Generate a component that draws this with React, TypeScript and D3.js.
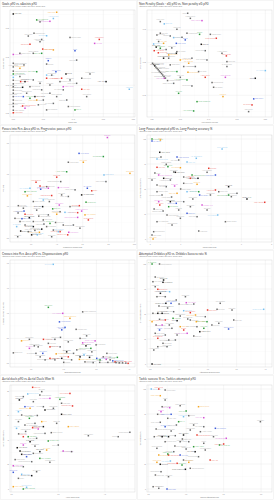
import React from "react";
import * as d3 from "d3";

// team colour codes used in the point tables below
const TEAM: Record<string, string> = {
  k: "#1b1b1b",
  r: "#e8382f",
  g: "#2e9b3c",
  b: "#3a5ad9",
  l: "#78c0f0",
  o: "#f5a524",
  m: "#d650d6",
  x: "#6e6e6e",
};

const SUBTITLE = "Attackers & mids, Premier League, Dec 2019, Source: fbref";

const PLAYERS = [
  "Jamie Vardy", "Sadio Mané", "Mohamed Salah", "Raheem Sterling", "Kevin De Bruyne",
  "Riyad Mahrez", "Sergio Agüero", "Gabriel Jesus", "Bernardo Silva", "David Silva",
  "Tammy Abraham", "Mason Mount", "Christian Pulisic", "Willian", "Marcus Rashford",
  "Anthony Martial", "Daniel James", "Harry Kane", "Son Heung-min", "Dele Alli",
  "Lucas Moura", "P-E Aubameyang", "Alexandre Lacazette", "Nicolas Pépé", "Raúl Jiménez",
  "Adama Traoré", "Diogo Jota", "Danny Ings", "Nathan Redmond", "Neal Maupay",
  "Pascal Groß", "Callum Wilson", "Ryan Fraser", "Harvey Barnes", "James Maddison",
  "Ayoze Pérez", "Wilfried Zaha", "Jordan Ayew", "Richarlison", "D. Calvert-Lewin",
  "Gylfi Sigurdsson", "Roberto Pereyra", "Gerard Deulofeu", "Teemu Pukki", "Emiliano Buendía",
  "Todd Cantwell", "Oli McBurnie", "Lys Mousset", "John Fleck", "Chris Wood",
  "Ashley Barnes", "Dwight McNeil", "Jack Grealish", "Wesley", "Anwar El Ghazi",
  "Trézéguet", "John McGinn", "Sébastien Haller", "Felipe Anderson", "Pablo Fornals",
  "Miguel Almirón", "A. Saint-Maximin", "Joelinton", "Roberto Firmino", "Jordan Henderson",
  "G. Wijnaldum", "Oxlade-Chamberlain", "Christian Eriksen", "Jesse Lingard", "Andreas Pereira",
  "Mesut Özil", "Bukayo Saka", "Kelechi Iheanacho", "Marc Albrighton", "Stuart Armstrong",
  "Sofiane Boufal", "Leandro Trossard", "Aaron Connolly", "Ismaïla Sarr", "Troy Deeney",
  "Abdoulaye Doucouré", "Andros Townsend", "Jeffrey Schlupp", "Bernard", "Alex Iwobi",
  "Youri Tielemans", "Dennis Praet", "Moussa Djenepo", "Ché Adams", "Shane Long",
  "Aaron Mooy", "Enda Stevens", "Billy Sharp", "Jay Rodriguez", "Matej Vydra",
  "J. B. Gudmundsson", "Onel Hernández", "Josip Drmić", "Kenny McLean", "Dominic Solanke",
  "Harry Wilson", "Joshua King", "Pedro Neto", "Leander Dendoncker", "Mark Noble",
  "Manuel Lanzini",
];

type Pt = [number, number, string];

// Goals p90 (x) / xAssists p90 (y)
const goalsXa: Pt[] = [
  [0, 0.352, "k"], [0.289, 0.358, "o"], [0.267, 0.336, "l"], [0.156, 0.331, "g"], [0.244, 0.326, "m"],
  [0.178, 0.324, "x"], [0.138, 0.284, "x"], [0.222, 0.275, "l"], [0.1, 0.274, "x"], [0.378, 0.269, "x"],
  [0.189, 0.262, "x"], [0.573, 0.262, "r"], [0.542, 0.248, "m"], [0.111, 0.245, "r"], [0.178, 0.254, "x"],
  [0.196, 0.228, "r"], [0.267, 0.225, "o"], [0.411, 0.222, "b"], [0, 0.209, "m"], [0.189, 0.213, "g"],
  [0.133, 0.213, "x"], [0.044, 0.213, "x"], [0.422, 0.189, "x"], [0.233, 0.187, "b"], [0.222, 0.175, "x"],
  [0.071, 0.172, "x"], [0.044, 0.16, "o"], [0.351, 0.14, "k"], [0.618, 0.113, "k"], [0.773, 0.086, "l"],
  [0.456, 0.086, "r"], [0.422, 0.107, "x"], [0.511, 0.14, "x"], [0.411, 0.013, "g"], [0.356, 0.048, "x"],
  [0.489, 0.06, "x"], [0.222, 0.013, "x"], [0.267, 0.036, "x"], [0.284, 0.148, "b"], [0.222, 0.125, "r"],
  [0.156, 0.148, "g"], [0.078, 0.113, "k"], [0.144, 0.06, "k"], [0.156, 0.048, "o"], [0.078, 0.019, "m"],
  [0.062, 0.027, "r"], [0.067, 0.06, "b"], [0.111, 0.054, "g"], [0.111, 0.095, "x"], [0.189, 0.084, "x"],
  [0.244, 0.101, "x"], [0.311, 0.113, "x"], [0.333, 0.084, "x"], [0.178, 0.107, "x"], [0.333, 0.095, "m"],
  [0.133, 0.119, "x"], [0.289, 0.06, "x"], [0.367, 0.025, "x"], [0.2, 0.048, "x"], [0.044, 0.131, "x"],
  [0.049, 0.113, "r"], [0.062, 0.093, "k"], [0.089, 0.072, "x"], [0.167, 0.031, "x"], [0.244, 0.072, "x"],
  [0.256, 0.136, "x"], [0.222, 0.136, "l"], [0.322, 0.125, "r"], [0.378, 0.119, "x"], [0.456, 0.125, "x"],
  [0, 0.178, "x"], [0, 0.165, "x"], [0, 0.15, "x"], [0, 0.14, "g"], [0, 0.128, "l"], [0, 0.118, "x"],
  [0, 0.105, "x"], [0, 0.095, "x"], [0, 0.083, "x"], [0, 0.072, "x"], [0, 0.06, "x"], [0, 0.048, "x"],
  [0, 0.036, "x"], [0, 0.025, "x"], [0, 0.012, "x"], [0, 0.003, "r"],
];

// Non penalty xG p90 (x) / NPG - xG p90 (y)
const npgMinusXg: Pt[] = [
  [0.252, 0.302, "x"], [0.059, 0.251, "x"], [0.087, 0.237, "l"], [0.353, 0.257, "m"], [0.271, 0.271, "x"],
  [0.059, 0.18, "x"], [0.129, 0.163, "x"], [0.336, 0.173, "g"], [0.412, 0.173, "x"], [0.454, 0.149, "r"],
  [0.235, 0.139, "b"], [0.153, 0.153, "l"], [0.212, 0.155, "x"], [0.082, 0.118, "o"], [0.172, 0.118, "b"],
  [0.012, 0.114, "l"], [0.047, 0.129, "x"], [0.348, 0.112, "k"], [0.016, 0.073, "r"], [0.059, 0.088, "g"],
  [0.176, 0.067, "x"], [0.376, 0.073, "x"], [0.494, 0.057, "x"], [0.118, 0.047, "o"], [0.172, 0.057, "k"],
  [0.525, 0.041, "r"], [0.529, 0.006, "x"], [0.388, 0.016, "x"], [0.082, 0.027, "k"], [0.2, 0.016, "o"],
  [0.282, 0.027, "x"], [0.259, -0.004, "o"], [0.129, -0.014, "x"], [0.306, -0.024, "x"], [0.529, -0.024, "x"],
  [0.8, -0.049, "l"], [0.729, -0.096, "k"], [0.376, -0.09, "r"], [0.254, -0.059, "o"], [0.176, -0.055, "g"],
  [0.518, -0.09, "m"], [0.329, -0.055, "x"], [0.247, -0.106, "g"], [0.2, -0.09, "x"], [0.424, -0.122, "x"],
  [0.153, -0.127, "x"], [0.188, -0.188, "g"], [0.435, -0.151, "x"], [0.282, -0.143, "x"], [0.501, -0.208, "o"],
  [0.718, -0.222, "b"], [0.706, -0.259, "r"], [0.682, -0.3, "x"], [0.318, -0.239, "g"], [0.294, -0.296, "g"],
  [0.118, 0.027, "x"], [0.224, -0.024, "x"], [0.087, -0.096, "m"], [0.176, 0.204, "x"], [0.247, 0.18, "x"],
  [0.035, 0.169, "x"], [0.03, 0.095, "k"], [0.045, 0.06, "r"], [0.1, 0.08, "x"], [0.14, 0.09, "x"],
  // players without a non-penalty goal sit on y = -x
  [0.004, -0.004, "x"], [0.012, -0.012, "x"], [0.02, -0.02, "k"], [0.028, -0.028, "x"], [0.036, -0.036, "x"],
  [0.044, -0.044, "x"], [0.052, -0.052, "x"], [0.06, -0.06, "x"], [0.068, -0.068, "x"], [0.076, -0.076, "x"],
  [0.085, -0.085, "x"], [0.095, -0.095, "x"], [0.11, -0.11, "x"],
];

// Progressive passes p90 (x) / passes into penalty area p90 (y)
const ppaProg: Pt[] = [
  [7.91, 3.18, "m"], [5.72, 2.68, "b"], [7.6, 2.58, "g"], [6.05, 2.4, "o"], [4.89, 2.4, "x"],
  [4.76, 2.1, "g"], [9.66, 2.05, "o"], [7.65, 2.0, "l"], [7.8, 1.79, "x"], [3.99, 1.93, "r"],
  [4.12, 1.6, "m"], [4.3, 1.79, "x"], [2.39, 1.77, "r"], [2.7, 1.65, "r"], [1.92, 1.58, "l"],
  [2.75, 1.55, "b"], [3.21, 1.63, "x"], [3.34, 1.58, "m"], [6.36, 1.58, "b"], [6.7, 1.5, "r"],
  [5.41, 1.53, "x"], [1.72, 1.34, "o"], [1.54, 1.47, "g"], [3.6, 1.35, "r"], [4.37, 1.37, "x"],
  [5.92, 1.37, "k"], [4.89, 1.32, "x"], [2.95, 1.21, "l"], [2.18, 1.16, "x"], [1.02, 1.03, "x"],
  [1.41, 0.95, "x"], [6.26, 1.14, "g"], [5.74, 1.03, "r"], [4.19, 1.05, "m"], [5.02, 1.0, "x"],
  [5.61, 0.81, "r"], [5.92, 0.86, "m"], [6.18, 0.74, "o"], [5.61, 0.66, "m"], [6.44, 0.58, "r"],
  [4.63, 0.82, "l"], [4.25, 0.84, "x"], [3.99, 0.76, "o"], [3.68, 0.93, "g"], [2.9, 1.0, "k"],
  [2.44, 0.89, "x"], [1.54, 0.76, "r"], [1.46, 0.86, "b"], [1.87, 0.65, "k"], [0.76, 0.63, "x"],
  [1.15, 0.53, "x"], [0.89, 0.37, "l"], [2.18, 0.53, "x"], [2.18, 0.37, "k"], [3.47, 0.47, "g"],
  [3.21, 0.37, "x"], [2.83, 0.29, "k"], [1.79, 0.21, "x"], [2.05, 0.11, "k"], [2.65, 0.19, "o"],
  [2.49, 0.11, "l"], [3.73, 0.26, "x"], [4.25, 0.21, "r"], [3.6, 0.05, "x"], [4.92, 0.19, "m"],
  [4.84, 0.11, "r"], [4.12, 0.21, "l"], [4.5, 0.42, "x"], [5.28, 0.42, "x"], [5.79, 0.32, "x"],
  [1.54, 0.42, "x"], [1.2, 0.23, "k"], [0.97, 0.05, "x"], [2.95, 0.58, "x"], [3.34, 0.74, "x"],
  [3.42, 1.16, "x"], [2.6, 0.7, "x"], [3.0, 0.45, "x"], [2.3, 0.25, "x"], [3.9, 0.5, "x"],
  [1.3, 0.62, "b"], [1.0, 0.8, "x"],
];

// Long passes p90 (x) / long passing accuracy % (y)
const longPass: Pt[] = [
  [0.11, 100, "g"], [0.11, 98, "b"], [0.66, 99, "o"], [0.62, 86.7, "k"], [0.7, 82, "x"],
  [4.73, 90, "l"], [1.76, 82, "b"], [1.87, 79, "x"], [3.03, 80.7, "l"], [2.42, 77, "l"],
  [0.44, 80, "l"], [1.05, 74.7, "x"], [0.44, 71.7, "r"], [1.98, 71.3, "o"], [1.16, 72.3, "g"],
  [3.85, 70.7, "r"], [4.29, 64, "b"], [1.54, 67, "x"], [1.65, 66.7, "k"], [0.55, 64, "m"],
  [3.74, 66.7, "x"], [2.75, 64, "g"], [3.14, 60.7, "k"], [2.64, 60.7, "r"], [0.88, 60.7, "k"],
  [1.32, 59, "x"], [3.08, 54.7, "o"], [2.2, 55.7, "x"], [4.29, 49, "r"], [5.16, 52.3, "k"],
  [4.51, 47.3, "x"], [5.16, 44, "g"], [6.37, 40, "k"], [7.54, 36.7, "r"], [5.71, 45.7, "x"],
  [5.34, 42.3, "x"], [3.25, 44, "b"], [3.19, 47.3, "g"], [3.96, 44, "x"], [2.42, 47.3, "l"],
  [1.76, 45.7, "o"], [0.55, 37.3, "m"], [0.44, 47.3, "x"], [0.77, 44, "x"], [0.62, 34, "r"],
  [1.21, 32.3, "g"], [1.71, 35.7, "b"], [1.32, 37.3, "k"], [3.41, 34, "m"], [2.2, 37.3, "x"],
  [2.64, 32.3, "x"], [2.42, 25.7, "b"], [4.44, 24, "l"], [3.74, 29, "x"], [4.95, 17.3, "x"],
  [3.08, 22.3, "x"], [1.98, 20.7, "x"], [1.1, 24, "x"], [0.44, 17.3, "x"], [1.43, 14, "x"],
  [3.19, 8, "x"], [0.22, 7.3, "x"], [0.18, 0, "o"], [0.11, 4, "x"], [0.84, 28, "x"],
  [1.87, 29, "x"], [0.44, 54, "x"], [1.05, 52.3, "x"], [0.11, 59, "x"], [2.0, 50, "x"],
  [1.4, 42, "x"], [2.8, 40, "x"], [0.3, 66, "x"], [0.25, 30, "x"], [1.6, 53, "m"], [2.2, 62, "x"],
];

// Dispossessions p90 (x) / crosses into penalty area p90 (y)
const crossesDisp: Pt[] = [
  [1.68, 1.98, "l"], [1.53, 1.12, "g"], [2.58, 1.03, "x"], [1.97, 1.0, "m"], [2.19, 0.9, "o"],
  [1.87, 0.83, "b"], [2.04, 0.72, "b"], [1.94, 0.67, "b"], [2.38, 0.68, "x"], [0.71, 0.45, "o"],
  [0.95, 0.48, "x"], [1.38, 0.48, "r"], [1.73, 0.48, "x"], [2.7, 0.55, "x"], [2.58, 0.41, "m"],
  [2.96, 0.45, "m"], [2.68, 0.35, "k"], [2.99, 0.37, "x"], [2.83, 0.3, "g"], [0.95, 0.3, "m"],
  [0.46, 0.21, "x"], [1.15, 0.2, "x"], [1.36, 0.2, "b"], [1.58, 0.33, "r"], [1.89, 0.33, "x"],
  [2.14, 0.43, "x"], [1.77, 0.19, "o"], [2.14, 0.13, "r"], [2.09, 0.23, "k"], [2.4, 0.27, "x"],
  [1.73, 0.07, "x"], [2.5, 0.13, "k"], [2.48, 0.08, "o"], [2.24, 0.07, "x"], [2.79, 0.12, "k"],
  [3.01, 0.1, "b"], [3.11, 0.07, "g"], [3.3, 0.08, "m"], [3.21, 0.13, "x"], [3.64, 0.12, "g"],
  [3.42, 0.07, "x"], [3.57, 0.03, "r"], [3.6, 0.015, "x"], [3.7, 0.01, "x"], [3.8, 0.01, "x"],
  [3.9, 0.005, "x"], [3.97, 0, "r"], [2.65, 0.03, "x"], [2.9, 0.015, "x"], [1.22, 0.33, "x"],
  [1.53, 0.4, "x"], [1.9, 0.52, "x"], [2.86, 0.23, "x"], [3.32, 0.2, "x"], [1.94, 0.1, "k"],
  [2.62, 0.17, "l"], [1.58, 0.1, "r"], [1.43, 0.07, "x"], [1.28, 0.13, "x"], [3.5, 0.05, "b"],
  [3.35, 0.02, "x"], [3.1, 0.02, "x"], [2.0, 0.02, "x"], [2.3, 0.2, "x"], [1.1, 0.35, "x"], [2.5, 0.5, "x"],
];

// Attempted dribbles p90 (x) / dribble success % (y)
const dribbles: Pt[] = [
  [0.06, 100, "g"], [0.32, 100, "x"], [0.17, 87, "x"], [0.46, 84, "k"], [0.44, 81.7, "k"],
  [0.09, 82.3, "x"], [0.17, 77.3, "x"], [0.26, 74.7, "r"], [0.67, 72.3, "l"], [0.35, 70.7, "k"],
  [0.23, 67.3, "x"], [0.52, 67.3, "x"], [1.22, 67.3, "x"], [1.25, 61.3, "m"], [0.54, 60.7, "k"],
  [0.72, 60.7, "b"], [1.0, 60, "x"], [1.51, 60, "x"], [2.43, 60.7, "x"], [2.32, 54.7, "x"],
  [3.94, 54.7, "l"], [2.84, 54, "x"], [1.99, 54, "r"], [0.26, 50.7, "k"], [0.41, 50.7, "k"],
  [0.09, 50.7, "x"], [0.81, 52.3, "x"], [1.39, 51.3, "r"], [1.16, 53.3, "l"], [1.57, 49, "o"],
  [1.04, 48, "x"], [0.79, 45.7, "g"], [1.91, 47.3, "x"], [0.06, 42.3, "o"], [0.32, 44.7, "x"],
  [0.52, 44, "r"], [0.66, 39, "x"], [1.6, 42.3, "o"], [0.93, 43.3, "k"], [2.38, 40.7, "x"],
  [2.9, 44, "x"], [1.97, 42.3, "g"], [2.72, 35, "b"], [2.14, 39, "x"], [0.41, 39, "m"],
  [0.32, 34, "b"], [1.72, 32.3, "k"], [1.28, 30.7, "m"], [1.16, 34, "r"], [1.04, 37.3, "o"],
  [0.75, 35.7, "x"], [1.86, 35.7, "g"], [0.17, 30.7, "x"], [0.52, 29, "x"], [0.93, 29, "x"],
  [1.51, 28, "x"], [0.64, 24, "x"], [0.26, 25.7, "r"], [0.44, 20.7, "x"], [0.26, 17.3, "x"],
  [0.12, 14, "x"], [0.06, 0, "k"], [0.87, 24, "x"], [0.58, 17.3, "x"], [1.39, 44, "x"],
  [1.62, 37.3, "x"], [0.6, 56, "x"], [0.3, 58, "x"], [0.9, 64, "x"], [1.3, 45, "x"], [0.2, 39, "x"],
];

// Aerial duels p90 (x) / aerial duels won % (y)
const aerials: Pt[] = [
  [0.9, 83, "r"], [2.5, 78, "r"], [1.29, 79.5, "x"], [0.69, 77.6, "l"], [0.5, 75.4, "x"],
  [0.33, 72.7, "k"], [1.21, 76.7, "x"], [1.64, 74, "m"], [2.07, 73.2, "g"], [2.14, 70, "x"],
  [2.61, 67.8, "r"], [0.93, 71.3, "x"], [0.57, 67.2, "b"], [0.79, 65.9, "o"], [0.29, 63.1, "l"],
  [1.43, 64.5, "k"], [1.36, 67.2, "x"], [1.79, 65.9, "x"], [2.14, 61, "k"], [0.43, 60.4, "x"],
  [0.76, 57.7, "g"], [1.29, 55, "o"], [1.0, 53.6, "x"], [1.93, 53.6, "x"], [2.43, 50.9, "o"],
  [1.36, 50.9, "k"], [0.21, 49.5, "l"], [0.9, 50.1, "r"], [1.14, 49, "m"], [3.29, 43.5, "x"],
  [5.07, 46.3, "x"], [4.57, 42.7, "x"], [0.5, 42.7, "r"], [0.71, 42.7, "g"], [1.07, 41.4, "x"],
  [0.79, 38.6, "k"], [1.57, 39.2, "g"], [2.0, 35.9, "x"], [0.5, 35.9, "m"], [0.24, 33.7, "k"],
  [0.36, 31, "k"], [1.5, 31.8, "o"], [2.21, 31, "m"], [2.57, 30.5, "x"], [1.21, 30.5, "k"],
  [0.93, 29.1, "x"], [0.43, 28.3, "k"], [0.64, 26.4, "b"], [1.21, 25, "g"], [0.86, 22.3, "x"],
  [1.64, 21.8, "x"], [0.07, 19, "m"], [0.5, 18.2, "x"], [0.07, 13.6, "b"], [0.43, 12, "l"],
  [0.86, 10.9, "k"], [1.07, 14.1, "x"], [0.29, 8.7, "x"], [0.07, 1.9, "o"], [0.64, 1.4, "l"],
  [0.5, 0, "g"], [1.43, 45.4, "x"], [0.29, 55, "x"], [0.57, 52.2, "x"], [1.1, 60, "x"],
  [0.6, 47, "x"], [1.7, 46, "x"], [0.3, 45, "x"], [1.0, 35, "x"], [0.15, 24, "x"],
];

// Tackles attempted p90 (x) / tackle success % (y)
const tackles: Pt[] = [
  [0.07, 100, "l"], [0.27, 100, "r"], [0.44, 99, "x"], [0.31, 93.3, "o"], [0.44, 89, "x"],
  [0.36, 82.3, "x"], [0.56, 81.3, "m"], [0.84, 83.3, "x"], [1.33, 82.3, "o"], [1.0, 78, "g"],
  [0.33, 77.3, "m"], [0.24, 74.7, "x"], [0.6, 74.7, "b"], [0.93, 72.3, "l"], [1.07, 73.3, "x"],
  [1.47, 71.3, "m"], [2.98, 67.3, "x"], [0.51, 70.7, "x"], [0.31, 66.7, "x"], [0.44, 62.3, "b"],
  [0.8, 67.3, "g"], [0.74, 64, "x"], [1.2, 64, "x"], [1.78, 60.7, "b"], [1.47, 62.3, "x"],
  [1.11, 59, "x"], [1.38, 57.3, "x"], [0.53, 52.3, "k"], [0.36, 52.3, "k"], [0.15, 52.3, "x"],
  [0.71, 53.3, "x"], [0.93, 54, "k"], [1.29, 54, "r"], [2.07, 50.7, "m"], [1.73, 52.3, "x"],
  [1.89, 44, "g"], [2.0, 45, "r"], [0.84, 47.3, "x"], [0.44, 47.3, "x"], [1.07, 47.3, "x"],
  [1.47, 45.7, "x"], [1.2, 42.3, "g"], [0.27, 34, "o"], [0.22, 40.7, "x"], [0.53, 34, "r"],
  [1.24, 37.3, "k"], [1.51, 39, "x"], [1.64, 29, "r"], [1.33, 32.3, "x"], [0.51, 35, "g"],
  [0.84, 34, "b"], [0.58, 28, "l"], [0.22, 26.7, "o"], [0.31, 24.7, "k"], [0.76, 25.7, "r"],
  [0.89, 24, "g"], [0.93, 29, "x"], [0.98, 19.7, "k"], [1.07, 26.7, "o"], [1.11, 20.7, "x"],
  [0.33, 17.3, "x"], [0.53, 12.3, "x"], [0.18, 14, "x"], [0.12, 2.3, "x"], [0.27, 0.7, "x"],
  [0.49, 0, "b"], [0.67, 37.3, "x"], [0.6, 58, "x"], [0.9, 50, "x"], [0.2, 60, "x"],
  [1.0, 40, "x"], [0.7, 43, "x"],
];

const PANELS = [
  { title: "Goals p90 vs. xAssists p90", xLabel: "Goals p90", yLabel: "xAssists p90",
    data: goalsXa, xDomain: [-0.022, 0.811], yDomain: [-0.012, 0.366],
    xTicks: [0, 0.2, 0.4, 0.6, 0.8], yTicks: [0, 0.1, 0.2, 0.3], xf: ".2f", yf: ".2f" },
  { title: "Non Penalty (Goals - xG) p90 vs. Non penalty xG p90", xLabel: "Non Penalty xG p90", yLabel: "NPG - xG p90",
    data: npgMinusXg, xDomain: [-0.035, 0.847], yDomain: [-0.333, 0.322],
    xTicks: [0, 0.2, 0.4, 0.6, 0.8], yTicks: [-0.2, 0, 0.2], xf: ".2f", yf: ".2f" },
  { title: "Passes into Pen. Area p90 vs. Progressive passes p90", xLabel: "Progressive passes p90", yLabel: "PPA p90",
    data: ppaProg, xDomain: [0.374, 10.05], yDomain: [-0.116, 3.26],
    xTicks: [2, 4, 6, 8, 10], yTicks: [0, 1, 2, 3], xf: ".1f", yf: ".1f" },
  { title: "Long Passes attempted p90 vs. Long Passing accuracy %", xLabel: "Long Passes p90", yLabel: "Long Passing accuracy %",
    data: longPass, xDomain: [-0.22, 8.02], yDomain: [-3, 104],
    xTicks: [0, 2, 4, 6, 8], yTicks: [0, 25, 50, 75, 100], xf: ".0f", yf: ".0f" },
  { title: "Crosses into Pen. Area p90 vs. Dispossessions p90", xLabel: "Dispossessions p90", yLabel: "Crosses into Pen. Area p90",
    data: crossesDisp, xDomain: [0.357, 4.18], yDomain: [-0.073, 2.067],
    xTicks: [1, 2, 3, 4], yTicks: [0, 0.5, 1, 1.5, 2], xf: ".1f", yf: ".1f" },
  { title: "Attempted Dribbles p90 vs. Dribbles Success rate %", xLabel: "Attempted Dribbles p90", yLabel: "Dribbles Success rate %",
    data: dribbles, xDomain: [-0.116, 4.23], yDomain: [-3, 104],
    xTicks: [0, 1, 2, 3, 4], yTicks: [0, 25, 50, 75, 100], xf: ".1f", yf: ".0f" },
  { title: "Aerial duels p90 vs. Aerial Duels Won %", xLabel: "Aerial Duels p90", yLabel: "Aerial Duels Won %",
    data: aerials, xDomain: [-0.071, 5.29], yDomain: [-2.45, 84.9],
    xTicks: [0, 2, 4], yTicks: [0, 20, 40, 60, 80], xf: ".1f", yf: ".0f" },
  { title: "Tackle success % vs. Tackles attempted p90", xLabel: "Tackles attempted p90", yLabel: "Tackle success %",
    data: tackles, xDomain: [-0.044, 3.29], yDomain: [-3, 104],
    xTicks: [0, 1, 2, 3], yTicks: [0, 25, 50, 75, 100], xf: ".1f", yf: ".0f" },
];

const W = 274;
const H = 500;
const PW = 137;
const PH = 125;
const plot = { left: 10, right: 135, top: 10, bottom: 117 };
const FONT = "Lato, 'Open Sans', sans-serif";

function midpoints(ticks: number[]) {
  const out: number[] = [];
  for (let i = 0; i < ticks.length - 1; i++) out.push((ticks[i] + ticks[i + 1]) / 2);
  if (ticks.length > 1) {
    const step = ticks[1] - ticks[0];
    out.push(ticks[0] - step / 2, ticks[ticks.length - 1] + step / 2);
  }
  return out;
}

function Panel({ p, idx }: { p: (typeof PANELS)[number]; idx: number }) {
  const ox = (idx % 2) * PW;
  const oy = Math.floor(idx / 2) * PH;
  const x = d3.scaleLinear().domain(p.xDomain).range([plot.left, plot.right]);
  const y = d3.scaleLinear().domain(p.yDomain).range([plot.bottom, plot.top]);
  const inX = (v: number) => v >= p.xDomain[0] && v <= p.xDomain[1];
  const inY = (v: number) => v >= p.yDomain[0] && v <= p.yDomain[1];
  const fx = d3.format(p.xf);
  const fy = d3.format(p.yf);
  const cy = (plot.top + plot.bottom) / 2;
  const cx = (plot.left + plot.right) / 2;

  // rough repel: alternate sides, but keep labels inside the panel
  const labelPos = (px: number, py: number, i: number) => {
    let side = (i + idx) % 3;
    if (px > plot.right - 14 && side === 0) side = 1;
    if (px < plot.left + 12 && side === 1) side = 0;
    const tx = side === 0 ? px + 1.2 : side === 1 ? px - 1.2 : px;
    const ty = side === 2 ? py - 1.2 : py + 0.5;
    const anchor = side === 0 ? "start" : side === 1 ? "end" : "middle";
    return { tx, ty, anchor };
  };

  return (
    <g transform={`translate(${ox},${oy})`} fontFamily={FONT}>
      <rect x={0.3} y={0.3} width={PW - 0.6} height={PH - 0.6} fill="#fff" stroke="#e6e6e6" strokeWidth={0.4} />
      <text x={2} y={4.6} fontSize={3} fill="#444">{p.title}</text>
      <text x={2} y={7.4} fontSize={1.7} fill="#888">{SUBTITLE}</text>

      {midpoints(p.xTicks).filter(inX).map((t, i) => (
        <line key={`mx${i}`} x1={x(t)} x2={x(t)} y1={plot.top} y2={plot.bottom} stroke="#f4f4f4" strokeWidth={0.3} />
      ))}
      {midpoints(p.yTicks).filter(inY).map((t, i) => (
        <line key={`my${i}`} y1={y(t)} y2={y(t)} x1={plot.left} x2={plot.right} stroke="#f4f4f4" strokeWidth={0.3} />
      ))}
      {p.xTicks.map((t) => (
        <g key={`x${t}`}>
          <line x1={x(t)} x2={x(t)} y1={plot.top} y2={plot.bottom} stroke="#e4e4e4" strokeWidth={0.35} />
          <text x={x(t)} y={plot.bottom + 2.6} fontSize={1.6} fill="#999" textAnchor="middle">{fx(t)}</text>
        </g>
      ))}
      {p.yTicks.map((t) => (
        <g key={`y${t}`}>
          <line y1={y(t)} y2={y(t)} x1={plot.left} x2={plot.right} stroke="#e4e4e4" strokeWidth={0.35} />
          <text x={plot.left - 1} y={y(t) + 0.55} fontSize={1.6} fill="#999" textAnchor="end">{fy(t)}</text>
        </g>
      ))}
      <rect x={plot.left} y={plot.top} width={plot.right - plot.left} height={plot.bottom - plot.top}
        fill="none" stroke="#cfcfcf" strokeWidth={0.4} />
      <text x={cx} y={plot.bottom + 6} fontSize={1.9} fill="#888" textAnchor="middle">{p.xLabel}</text>
      <text transform={`translate(3.6,${cy}) rotate(-90)`} fontSize={1.9} fill="#888" textAnchor="middle">{p.yLabel}</text>

      {p.data.map((d, i) => {
        const px = x(d[0]);
        const py = y(d[1]);
        const { tx, ty, anchor } = labelPos(px, py, i);
        const name = PLAYERS[(i * 7 + idx * 13) % PLAYERS.length];
        const gray = d[2] === "x";
        return (
          <text key={`t${i}`} x={tx} y={ty} fontSize={1.35} textAnchor={anchor}
            fill={gray ? "#b8b8b8" : TEAM[d[2]]} fillOpacity={gray ? 1 : 0.7}>
            {name}
          </text>
        );
      })}
      {p.data.map((d, i) => (
        <rect key={`p${i}`} x={x(d[0]) - 0.75} y={y(d[1]) - 0.75} width={1.5} height={1.5} fill={TEAM[d[2]]} />
      ))}
    </g>
  );
}

export default function App() {
  return (
    <svg width={W} height={H} viewBox={`0 0 ${W} ${H}`}
      style={{ position: "absolute", left: 0, top: 0, background: "#fff" }}>
      {PANELS.map((p, i) => (
        <Panel key={i} p={p} idx={i} />
      ))}
    </svg>
  );
}
